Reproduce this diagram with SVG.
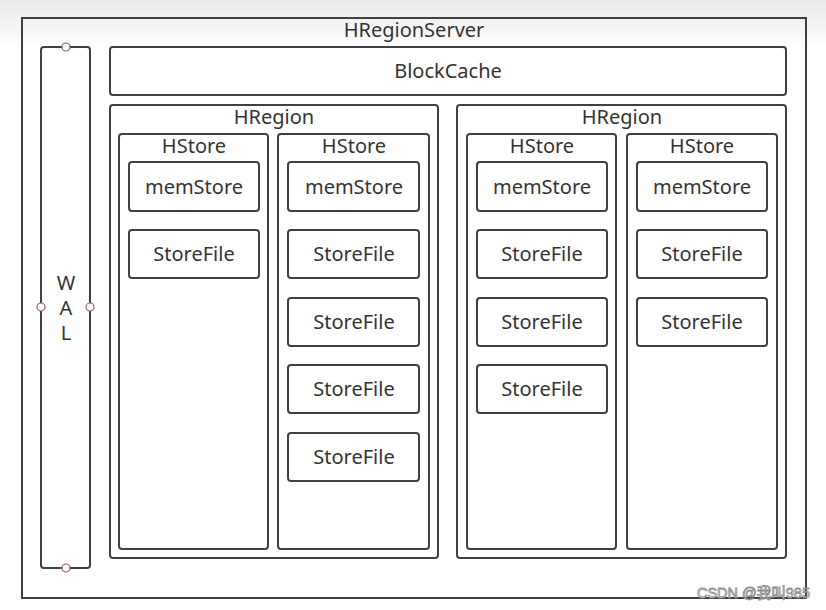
<svg xmlns="http://www.w3.org/2000/svg" width="826" height="610" viewBox="0 0 826 610">
<defs>
<linearGradient id="bg" x1="0" y1="0" x2="0" y2="1">
<stop offset="0" stop-color="#eaeaea"/>
<stop offset="1" stop-color="#ffffff"/>
</linearGradient>
<style>
.box{fill:#fff;stroke:#404040;stroke-width:2}
.t{font-family:"Noto Sans","Open Sans","DejaVu Sans",sans-serif;font-size:20px;fill:#333;text-anchor:middle}
.pt{fill:#fff;stroke:#a05a68;stroke-width:1.2}
.wm{font-family:"Liberation Sans","Noto Sans CJK SC",sans-serif;font-size:14.5px;fill:#fff;stroke:#888;stroke-width:0.8;text-anchor:end}
</style>
</defs>
<rect width="826" height="610" fill="#fff"/>
<rect width="826" height="50" fill="url(#bg)"/>
<g id="server">
<rect x="22" y="18" width="784" height="580" style="fill:none;stroke:#404040;stroke-width:2"/>
<text class="t" x="414" y="37">HRegionServer</text>
</g>
<g id="wal">
<rect class="box" x="41" y="47" width="49" height="521" rx="3"/>
<text class="t" x="66" y="290"><tspan x="66">W</tspan><tspan x="66" dy="25">A</tspan><tspan x="66" dy="25">L</tspan></text>
<circle class="pt" cx="66" cy="47" r="4"/>
<circle class="pt" cx="66" cy="568" r="4"/>
<circle class="pt" cx="41" cy="307" r="4"/>
<circle class="pt" cx="90" cy="307" r="4"/>
</g>
<g id="blockcache">
<rect class="box" x="110" y="47" width="676" height="48" rx="3"/>
<text class="t" x="448" y="78">BlockCache</text>
</g>
<g id="hregion1">
<rect class="box" x="110" y="105" width="328" height="453" rx="3"/>
<text class="t" x="274" y="124">HRegion</text>
</g>
<g id="hregion2">
<rect class="box" x="457" y="105" width="329" height="453" rx="3"/>
<text class="t" x="622" y="124">HRegion</text>
</g>
<g id="hstore1">
<rect class="box" x="119" y="134" width="149" height="415" rx="3"/>
<text class="t" x="194" y="153">HStore</text>
<g id="mem1"><rect class="box" x="129" y="162" width="130" height="49" rx="3"/><text class="t" x="194" y="194">memStore</text></g>
<g id="sf1a"><rect class="box" x="129" y="230" width="130" height="48" rx="3"/><text class="t" x="194" y="261">StoreFile</text></g>
</g>
<g id="hstore2">
<rect class="box" x="278" y="134" width="151" height="415" rx="3"/>
<text class="t" x="354" y="153">HStore</text>
<g id="mem2"><rect class="box" x="288" y="162" width="131" height="49" rx="3"/><text class="t" x="354" y="194">memStore</text></g>
<g id="sf2a"><rect class="box" x="288" y="230" width="131" height="48" rx="3"/><text class="t" x="354" y="261">StoreFile</text></g>
<g id="sf2b"><rect class="box" x="288" y="298" width="131" height="48" rx="3"/><text class="t" x="354" y="329">StoreFile</text></g>
<g id="sf2c"><rect class="box" x="288" y="365" width="131" height="48" rx="3"/><text class="t" x="354" y="396">StoreFile</text></g>
<g id="sf2d"><rect class="box" x="288" y="433" width="131" height="48" rx="3"/><text class="t" x="354" y="464">StoreFile</text></g>
</g>
<g id="hstore3">
<rect class="box" x="467" y="134" width="149" height="415" rx="3"/>
<text class="t" x="542" y="153">HStore</text>
<g id="mem3"><rect class="box" x="477" y="162" width="130" height="49" rx="3"/><text class="t" x="542" y="194">memStore</text></g>
<g id="sf3a"><rect class="box" x="477" y="230" width="130" height="48" rx="3"/><text class="t" x="542" y="261">StoreFile</text></g>
<g id="sf3b"><rect class="box" x="477" y="298" width="130" height="48" rx="3"/><text class="t" x="542" y="329">StoreFile</text></g>
<g id="sf3c"><rect class="box" x="477" y="365" width="130" height="48" rx="3"/><text class="t" x="542" y="396">StoreFile</text></g>
</g>
<g id="hstore4">
<rect class="box" x="627" y="134" width="150" height="415" rx="3"/>
<text class="t" x="702" y="153">HStore</text>
<g id="mem4"><rect class="box" x="637" y="162" width="130" height="49" rx="3"/><text class="t" x="702" y="194">memStore</text></g>
<g id="sf4a"><rect class="box" x="637" y="230" width="130" height="48" rx="3"/><text class="t" x="702" y="261">StoreFile</text></g>
<g id="sf4b"><rect class="box" x="637" y="298" width="130" height="48" rx="3"/><text class="t" x="702" y="329">StoreFile</text></g>
</g>
<g id="connectors"></g>
<text class="wm" x="810" y="598">CSDN @我叫985</text>
</svg>
